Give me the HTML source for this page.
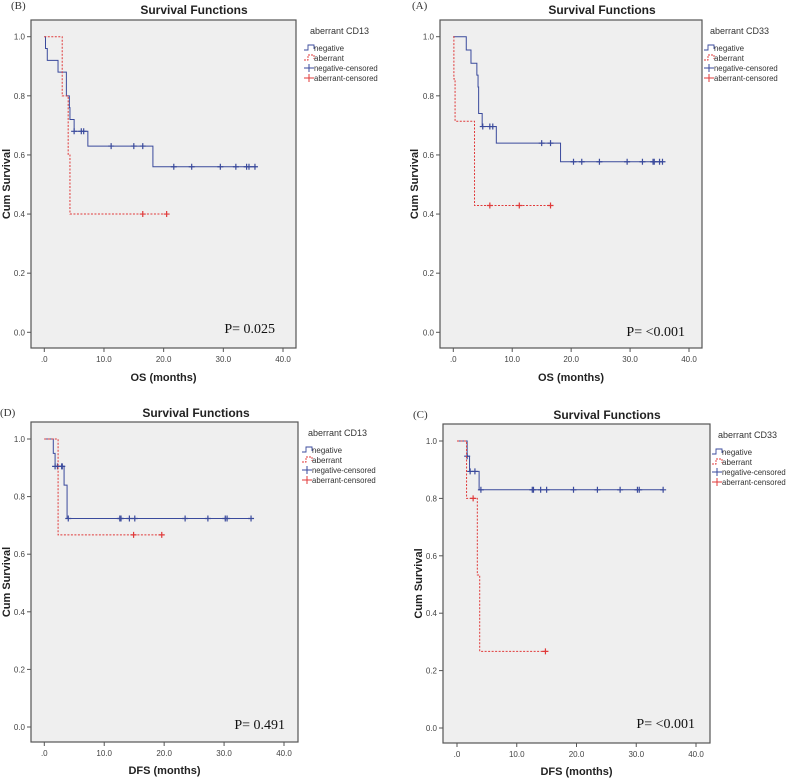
<!DOCTYPE html>
<html><head><meta charset="utf-8"><style>
html,body{margin:0;padding:0;background:#fff;}
svg{display:block;font-family:"Liberation Sans",sans-serif;}
</style></head><body>
<svg id="c" width="789" height="778" viewBox="0 0 789 778"></svg>
<script>
// Panel B: OS, CD13
const bNegT=[0,0.2,0.5,2.3,3.7,4.2,4.3,5.0,7.3,18.2];
const bNegS=[1.0,0.96,0.92,0.88,0.80,0.76,0.72,0.68,0.63,0.56];
const bNegEnd=35.5;
const bNegCens=[5.0,6.2,6.6,11.2,15.0,16.5,21.7,24.7,29.5,32.1,33.9,34.3,35.3];
const bAbT=[0,3.0,4.0,4.3];
const bAbS=[1.0,0.8,0.6,0.4];
const bAbEnd=20.5;
const bAbCens=[16.5,20.5];
// Panel A: OS, CD33
const aNegT=[0,2.2,3.0,4.0,4.2,4.3,4.9,7.3,18.2];
const aNegS=[1.0,0.955,0.91,0.87,0.83,0.74,0.696,0.64,0.577];
const aNegEnd=35.5;
const aNegCens=[5.0,6.2,6.7,15.0,16.5,20.4,21.8,24.8,29.5,32.1,33.9,34.1,35.0,35.5];
const aAbT=[0,0.1,0.3,3.6];
const aAbS=[1.0,0.857,0.714,0.429];
const aAbEnd=16.5;
const aAbCens=[6.2,11.2,16.5];
// Panel D: DFS, CD13
const dNegT=[0,1.5,1.8,3.3,3.8];
const dNegS=[1.0,0.95,0.905,0.84,0.724];
const dNegEnd=34.5;
const dNegCens=[1.8,2.2,2.9,3.0,4.0,12.6,12.8,14.2,15.1,23.5,27.3,30.2,30.5,34.5];
const dAbT=[0,2.3];
const dAbS=[1.0,0.667];
const dAbEnd=19.6;
const dAbCens=[14.9,19.6];
// Panel C: DFS, CD33
const cNegT=[0,1.7,2.1,3.7];
const cNegS=[1.0,0.947,0.894,0.83];
const cNegEnd=34.5;
const cNegCens=[1.7,2.2,3.0,4.0,12.6,12.8,14.0,15.0,19.5,23.5,27.3,30.2,30.5,34.5];
const cAbT=[0,1.6,3.4,3.8];
const cAbS=[1.0,0.8,0.533,0.267];
const cAbEnd=14.8;
const cAbCens=[2.7,14.8];
const xTicks=[".0","10.0","20.0","30.0","40.0"];
const xTickVals=[0,10,20,30,40];
const yTicks=["0.0","0.2","0.4","0.6","0.8","1.0"];
const yTickVals=[0,0.2,0.4,0.6,0.8,1.0];

const NS="http://www.w3.org/2000/svg";
const svg=document.getElementById('c');
function mk(tag,attrs,parent,text){const e=document.createElementNS(NS,tag);for(const k in attrs)e.setAttribute(k,attrs[k]);if(text!==undefined)e.textContent=text;(parent||svg).appendChild(e);return e;}

function stepVal(T,S,t){let v=S[0];for(let i=0;i<T.length;i++){if(T[i]<=t)v=S[i];}return v;}

function panel(o){
  const g=mk('g',{});
  
  
  const X=v=>o.x0+(v/40)*(o.x40-o.x0);
  const Y=v=>o.y0+(1-v)*(o.y1-o.y0);
  const lab=mk('text',{x:o.labX,y:o.labY,'font-family':'Liberation Serif, serif','font-size':11,fill:'#333'},g,o.label);
  
  const t=mk('text',{x:o.titleX,y:o.titleY,'text-anchor':'middle','font-size':12,'font-weight':'bold',fill:'#222'},g,'Survival Functions');
  
  const fr=mk('rect',{x:o.fx0,y:o.fy0,width:o.fx1-o.fx0,height:o.fy1-o.fy0,fill:'#efefef',stroke:'#555','stroke-width':1.2},g);
  
  for(let i=0;i<yTickVals.length;i++){
    const y=Y(yTickVals[i]);
    mk('line',{x1:o.fx0-4,x2:o.fx0,y1:y,y2:y,stroke:'#555'},g);
    const tl=mk('text',{x:o.fx0-6,y:y+3,'text-anchor':'end','font-size':8,fill:'#444'},g,yTicks[i]);
    
  }
  for(let i=0;i<xTickVals.length;i++){
    const x=X(xTickVals[i]);
    mk('line',{x1:x,x2:x,y1:o.fy1,y2:o.fy1+4,stroke:'#555'},g);
    const tl=mk('text',{x:x,y:o.fy1+14,'text-anchor':'middle','font-size':8,fill:'#444'},g,xTicks[i]);
    
  }
  const yl=mk('text',{x:0,y:0,transform:`translate(${o.ylX},${(o.fy0+o.fy1)/2}) rotate(-90)`,'text-anchor':'middle','font-size':11,'font-weight':'bold',fill:'#222'},g,'Cum Survival');
  
  const xl=mk('text',{x:(o.fx0+o.fx1)/2,y:o.xlY,'text-anchor':'middle','font-size':11,'font-weight':'bold',fill:'#222'},g,o.xlabel);
  
  const p=mk('text',{x:o.pX,y:o.pY,'text-anchor':'end','font-family':'Liberation Serif, serif','font-size':14,fill:'#111'},g,o.ptext);
  
  const series=[[o.negT,o.negS,o.negEnd,o.negCens,'#3a4a9c',null,'negative'],[o.abT,o.abS,o.abEnd,o.abCens,'#e03a3a','2,1.5','aberrant']];
  for(const s of series){
    const [T,S,end,C,col,dash,nm]=s;
    let d=`M${X(T[0])},${Y(S[0])}`;
    for(let i=1;i<T.length;i++){d+=` H${X(T[i])} V${Y(S[i])}`;}
    d+=` H${X(end)}`;
    const a={d:d,fill:'none',stroke:col,'stroke-width':1};
    if(dash)a['stroke-dasharray']=dash;
    const pa=mk('path',a,g);
    
    for(const c of C){
      const cx=X(c),cy=Y(stepVal(T,S,c));
      const m=mk('path',{d:`M${cx},${cy-3}V${cy+3}M${cx-3},${cy}H${cx+3}`,stroke:col,'stroke-width':1.2},g);
      
    }
  }
  const lt=mk('text',{x:o.lgX+6,y:o.lgY,'font-size':9,fill:'#333'},g,o.legTitle);
  
  const items=[['negative','#3a4a9c','step',null],['aberrant','#e03a3a','step','2,1'],['negative-censored','#3a4a9c','plus',null],['aberrant-censored','#e03a3a','plus',null]];
  items.forEach((it,i)=>{
    const y=o.lgY+16+i*10;
    const lg=mk('g',{},g);
    
    const x=o.lgX;
    if(it[2]==='step'){const a={d:`M${x},${y}H${x+4}V${y-5}H${x+10}V${y-1}`,fill:'none',stroke:it[1],'stroke-width':0.9};if(it[3])a['stroke-dasharray']=it[3];mk('path',a,lg);}
    else{mk('path',{d:`M${x},${y-2}H${x+10}M${x+5},${y-6}V${y+2}`,stroke:it[1],'stroke-width':1},lg);}
    mk('text',{x:x+10,y:y+1,'font-size':8,fill:'#333',textLength:it[0].length*3.75,lengthAdjust:'spacingAndGlyphs'},lg,it[0]);
  });
}
panel({id:'b',label:'(B)',labX:11,labY:9,titleX:194,titleY:14,fx0:31,fx1:296,fy0:20,fy1:348,x0:44.3,x40:283,y0:36.7,y1:332.3,ylX:10,xlY:381,xlabel:'OS (months)',pX:275,pY:333,ptext:'P= 0.025',lgX:304,lgY:34,legTitle:'aberrant CD13',
 negT:bNegT,negS:bNegS,negEnd:bNegEnd,negCens:bNegCens,abT:bAbT,abS:bAbS,abEnd:bAbEnd,abCens:bAbCens});
panel({id:'a',label:'(A)',labX:412,labY:9,titleX:602,titleY:14,fx0:440,fx1:702,fy0:20,fy1:348,x0:453.3,x40:689,y0:36.7,y1:332.3,ylX:418,xlY:381,xlabel:'OS (months)',pX:685,pY:336,ptext:'P= <0.001',lgX:704,lgY:34,legTitle:'aberrant CD33',
 negT:aNegT,negS:aNegS,negEnd:aNegEnd,negCens:aNegCens,abT:aAbT,abS:aAbS,abEnd:aAbEnd,abCens:aAbCens});
panel({id:'d',label:'(D)',labX:0,labY:416,titleX:196,titleY:417,fx0:31,fx1:298,fy0:422,fy1:742,x0:44.3,x40:284,y0:439,y1:727,ylX:10,xlY:774,xlabel:'DFS (months)',pX:285,pY:729,ptext:'P= 0.491',lgX:302,lgY:436,legTitle:'aberrant CD13',
 negT:dNegT,negS:dNegS,negEnd:dNegEnd,negCens:dNegCens,abT:dAbT,abS:dAbS,abEnd:dAbEnd,abCens:dAbCens});
panel({id:'c',label:'(C)',labX:413,labY:418,titleX:607,titleY:419,fx0:443,fx1:710,fy0:424,fy1:743,x0:457,x40:696,y0:441,y1:728,ylX:422,xlY:775,xlabel:'DFS (months)',pX:695,pY:728,ptext:'P= <0.001',lgX:712,lgY:438,legTitle:'aberrant CD33',
 negT:cNegT,negS:cNegS,negEnd:cNegEnd,negCens:cNegCens,abT:cAbT,abS:cAbS,abEnd:cAbEnd,abCens:cAbCens});
</script>
</body></html>
